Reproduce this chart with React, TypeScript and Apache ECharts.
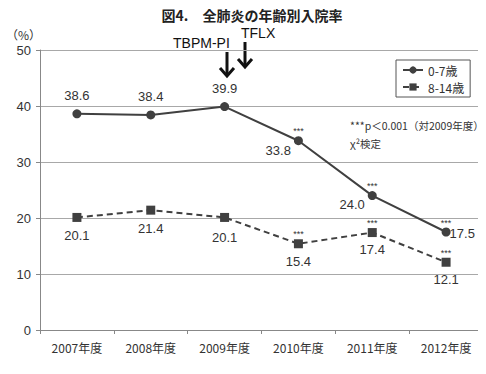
import React, { useEffect, useRef } from "react";
import * as echarts from "echarts";

const categories = ["2007年度", "2008年度", "2009年度", "2010年度", "2011年度", "2012年度"];
const age0to7 = [38.6, 38.4, 39.9, 33.8, 24.0, 17.5];
const age8to14 = [20.1, 21.4, 20.1, 15.4, 17.4, 12.1];
const starredIndices = [3, 4, 5];
const seriesNames = ["0-7歳", "8-14歳"];
const yTicks = { min: 0, max: 50, interval: 10 };

const JP = '"Noto Sans CJK JP", "Liberation Sans", sans-serif';
const NUM = '"Liberation Sans", Arial, sans-serif';
const INK = "#333";
const LINE = "#404040";

export default function App() {
  const ref = useRef<HTMLDivElement>(null);
  useEffect(() => {
    if (!ref.current) return;
    const chart = echarts.init(ref.current, undefined, { renderer: "svg" });

    const s1LabelPos: any[] = [
      { position: "top", distance: 7 },
      { position: "top", distance: 7 },
      { position: "top", distance: 7 },
      { position: "left", distance: 3, offset: [0, 10] },
      { position: "left", distance: 3, offset: [0, 9] },
      { position: "right", distance: 0, offset: [-1, 1] },
    ];
    const s2LabelPos: any[] = [
      { position: "bottom", distance: 7 },
      { position: "bottom", distance: 7 },
      { position: "bottom", distance: 9 },
      { position: "bottom", distance: 7 },
      { position: "bottom", distance: 6 },
      { position: "bottom", distance: 6 },
    ];

    const stars = (vals: number[]) =>
      starredIndices.map((i) => ({
        coord: [categories[i], vals[i]],
        value: "***",
      }));

    const starMark = (vals: number[]) => ({
      symbol: "circle",
      symbolSize: 0,
      silent: true,
      label: {
        show: true,
        position: "top",
        distance: 5,
        formatter: "***",
        fontSize: 9,
        color: INK,
        fontFamily: NUM,
      },
      data: stars(vals),
    });

    chart.setOption({
      animation: false,
      title: {
        text: "図4.　全肺炎の年齢別入院率",
        left: 247,
        textAlign: "center",
        top: 3,
        textStyle: { fontFamily: JP, fontSize: 14, fontWeight: "bold", color: "#222" },
      },
      grid: { left: 40, right: 3, top: 50, bottom: 44, containLabel: false },
      legend: {
        orient: "vertical",
        left: 396,
        top: 60,
        width: 84,
        padding: [4, 6, 4, 6],
        itemGap: 5,
        itemWidth: 20,
        itemHeight: 9,
        borderColor: "#555",
        borderWidth: 1,
        backgroundColor: "#fff",
        data: seriesNames,
        textStyle: { fontFamily: JP, fontSize: 12, color: INK },
      },
      xAxis: {
        type: "category",
        data: categories,
        boundaryGap: true,
        axisLine: { lineStyle: { color: "#888", width: 1 } },
        axisTick: { show: true, length: 4, lineStyle: { color: "#888" } },
        axisLabel: { fontFamily: JP, fontSize: 12, color: INK, margin: 11 },
      },
      yAxis: {
        type: "value",
        min: yTicks.min,
        max: yTicks.max,
        interval: yTicks.interval,
        axisLine: { show: true, lineStyle: { color: "#888" } },
        axisTick: { show: true, length: 4, lineStyle: { color: "#888" } },
        splitLine: { lineStyle: { color: "#a8a8a8", width: 1 } },
        axisLabel: { fontFamily: NUM, fontSize: 13, color: INK, margin: 9 },
      },
      series: [
        {
          name: seriesNames[0],
          type: "line",
          data: age0to7.map((v, i) => ({
            value: v,
            label: { show: true, ...s1LabelPos[i] },
          })),
          symbol: "circle",
          symbolSize: 9,
          lineStyle: { color: LINE, width: 2 },
          itemStyle: { color: LINE },
          label: {
            show: true,
            fontFamily: NUM,
            fontSize: 13,
            color: INK,
            formatter: (p: any) => Number(p.value).toFixed(1),
          },
          markPoint: starMark(age0to7),
          z: 3,
        },
        {
          name: seriesNames[1],
          type: "line",
          data: age8to14.map((v, i) => ({
            value: v,
            label: { show: true, ...s2LabelPos[i] },
          })),
          symbol: "rect",
          symbolSize: 9,
          lineStyle: { color: LINE, width: 2, type: [6, 4] },
          itemStyle: { color: LINE },
          label: {
            show: true,
            fontFamily: NUM,
            fontSize: 13,
            color: INK,
            formatter: (p: any) => Number(p.value).toFixed(1),
          },
          markPoint: starMark(age8to14),
          z: 2,
        },
      ],
      graphic: [
        {
          type: "text",
          x: 6,
          y: 28,
          style: { text: "（%）", fontFamily: JP, fontSize: 12, fill: INK },
        },
        {
          type: "text",
          x: 173,
          y: 36,
          style: { text: "TBPM-PI", fontFamily: NUM, fontSize: 14, fill: "#111" },
        },
        {
          type: "text",
          x: 241,
          y: 26,
          style: { text: "TFLX", fontFamily: NUM, fontSize: 14, fill: "#111" },
        },
        {
          type: "line",
          shape: { x1: 227, y1: 52, x2: 227, y2: 76 },
          style: { stroke: "#111", lineWidth: 3 },
        },
        {
          type: "polyline",
          shape: { points: [[220, 68], [227, 76], [234, 68]] },
          style: { stroke: "#111", lineWidth: 3, fill: null },
        },
        {
          type: "line",
          shape: { x1: 245, y1: 42, x2: 245, y2: 67 },
          style: { stroke: "#111", lineWidth: 3 },
        },
        {
          type: "polyline",
          shape: { points: [[238, 59], [245, 67], [252, 59]] },
          style: { stroke: "#111", lineWidth: 3, fill: null },
        },
        {
          type: "text",
          x: 350,
          y: 120,
          style: { text: "***p＜0.001（対2009年度）", fontFamily: JP, fontSize: 10.5, fill: INK },
        },
        {
          type: "text",
          x: 350,
          y: 138,
          style: { text: "χ²検定", fontFamily: JP, fontSize: 10.5, fill: INK },
        },
      ],
    });
    return () => chart.dispose();
  }, []);
  return <div ref={ref} style={{ width: 486, height: 374, margin: -8 }} />;
}
